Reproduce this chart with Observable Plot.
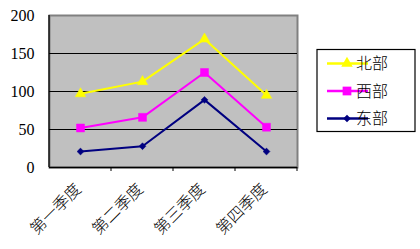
<!DOCTYPE html>
<html><head><meta charset="utf-8">
<script src="https://cdn.jsdelivr.net/npm/d3@7"></script>
<script src="https://cdn.jsdelivr.net/npm/@observablehq/plot@0.6"></script>
<style>
html,body{margin:0;padding:0;background:#fff;}
#chart{position:relative;width:420px;height:249px;}
</style>
</head><body><div id="chart"></div>
<script>
const quarters = ["第一季度", "第二季度", "第三季度", "第四季度"];
const seriesNames = ["北部", "西部", "东部"];
const north = [97, 113, 169, 95];
const west = [52, 66, 125, 53];
const east = [21, 28, 89, 21];
const yTicks = [0, 50, 100, 150, 200];
const gridValues = [50, 100, 150];

const colors = {"北部": "#FFFF00", "西部": "#FF00FF", "东部": "#000080"};
const symbols = {"北部": "triangle", "西部": "square", "东部": "diamond2"};
const sizes = {"北部": 3.9, "西部": 4.5, "东部": 3.1};

const valuesBySeries = {"北部": north, "西部": west, "东部": east};
const data = [];
for (const s of seriesNames) quarters.forEach((q, i) => data.push({series: s, quarter: q, value: valuesBySeries[s][i]}));

const font = "'Noto Sans CJK SC', sans-serif";
const plot = Plot.plot({
  width: 420, height: 249,
  marginLeft: 49, marginRight: 123, marginTop: 15, marginBottom: 82,
  style: {fontFamily: font, fontSize: "15px", background: "#fff", overflow: "visible"},
  x: {type: "point", domain: quarters, padding: 0.5, label: null},
  y: {domain: [0, 200], label: null},
  marks: [
    Plot.frame({fill: "#C0C0C0", stroke: "#808080", strokeWidth: 2}),
    Plot.ruleY(gridValues, {stroke: "#000", strokeWidth: 1}),
    Plot.ruleY([0], {stroke: "#000", strokeWidth: 1.3}),
    Plot.axisY({ticks: yTicks, tickSize: 0, tickPadding: 15, fontFamily: "'Liberation Serif', serif", fontSize: 16, label: null}),
    Plot.axisX({tickSize: 0, tickRotate: -45, tickPadding: 19, dx: -2, fontSize: 16, fontWeight: 300, label: null}),
    ...seriesNames.map(s => Plot.line(data.filter(d => d.series === s), {x: "quarter", y: "value", stroke: colors[s], strokeWidth: 2})),
    ...seriesNames.map(s => Plot.dot(data.filter(d => d.series === s), {x: "quarter", y: "value", fill: colors[s], stroke: colors[s], strokeWidth: 0.5, symbol: symbols[s], r: sizes[s]}))
  ]
});

const svg = d3.select(plot);
const x = plot.scale("x");
const step = (x.range[1] - x.range[0]) / quarters.length;
const left = 49, bottom = 167;
svg.append("line").attr("x1", left).attr("x2", left).attr("y1", 15).attr("y2", bottom).attr("stroke", "#000").attr("stroke-width", 1.3);
for (let i = 1; i <= quarters.length; i++) {
  const bx = left + i * step;
  svg.append("line").attr("x1", bx).attr("x2", bx).attr("y1", bottom).attr("y2", bottom + 4).attr("stroke", "#000");
}
const lg = svg.append("g");
lg.append("rect").attr("x", 317).attr("y", 49.5).attr("width", 98).attr("height", 82).attr("fill", "#fff").attr("stroke", "#000").attr("stroke-width", 1.2);
seriesNames.forEach((s, i) => {
  const cy = 63.5 + i * 27.5;
  lg.append("line").attr("x1", 327).attr("x2", 368).attr("y1", cy).attr("y2", cy).attr("stroke", colors[s]).attr("stroke-width", 2.5);
  const sym = {triangle: d3.symbolTriangle, square: d3.symbolSquare, diamond2: d3.symbolDiamond2}[symbols[s]];
  const area = Math.PI * sizes[s] * sizes[s] * 1.2;
  lg.append("path").attr("d", d3.symbol(sym, area)()).attr("transform", `translate(347,${cy})`).attr("fill", colors[s]);
  lg.append("text").attr("x", 372).attr("y", cy).attr("dy", "0.35em").attr("font-size", 16).attr("font-family", font).attr("font-weight", 300).attr("fill", "#000").text(s);
});
document.getElementById("chart").appendChild(plot);
</script>
</body></html>
